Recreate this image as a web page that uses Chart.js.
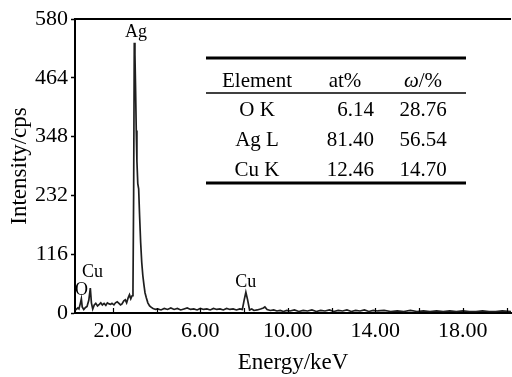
<!DOCTYPE html>
<html>
<head>
<meta charset="utf-8">
<script src="https://cdn.jsdelivr.net/npm/chart.js@4.4.0/dist/chart.umd.min.js"></script>
<style>
  html, body { margin: 0; padding: 0; background: #fff; }
  #wrap { width: 512px; height: 377px; }
</style>
</head>
<body>
<div id="wrap"><canvas id="eds" width="512" height="377"></canvas></div>
<script>
// EDS spectrum of the Ag/Cu sample, with the composition table inset.

// --- data ---
const energy = [
  0.30, 0.40, 0.45, 0.52, 0.56, 0.60, 0.67, 0.75, 0.82, 0.90, 0.97, 1.02, 1.08,
  1.15, 1.22, 1.30, 1.38, 1.45, 1.52, 1.60, 1.68, 1.75, 1.83, 1.90, 1.96, 2.05,
  2.12, 2.20, 2.28, 2.35, 2.42, 2.50, 2.57, 2.63, 2.70, 2.76, 2.82, 2.88, 2.92,
  2.95, 2.98, 3.01, 3.04, 3.07, 3.10, 3.14, 3.18, 3.22, 3.27, 3.32, 3.37, 3.42,
  3.47, 3.53, 3.60, 3.68, 3.76, 3.84, 3.95,
  4.05, 4.20, 4.35, 4.50, 4.65, 4.80, 4.95, 5.10, 5.25, 5.40, 5.55, 5.70, 5.85,
  6.00, 6.15, 6.30, 6.45, 6.60, 6.75, 6.90, 7.05, 7.20, 7.35, 7.50, 7.65, 7.80,
  7.92, 8.00, 8.08, 8.16, 8.25, 8.35, 8.45, 8.60, 8.75, 8.88, 8.95, 9.05, 9.20,
  9.35, 9.50, 9.65, 9.80, 9.95, 10.1, 10.3, 10.5, 10.7, 10.9, 11.1, 11.3, 11.5,
  11.7, 11.9, 12.1, 12.3, 12.5, 12.7, 12.9, 13.1, 13.3, 13.5, 13.7, 13.9, 14.1,
  14.4, 14.7, 15.0, 15.3, 15.6, 15.9, 16.2, 16.5, 16.8, 17.1, 17.4, 17.7, 18.0,
  18.3, 18.6, 18.9, 19.2, 19.5, 19.8, 20.2
];
const counts = [
  6, 10, 8, 20, 28, 12, 7, 11, 13, 25, 49, 20, 8,
  16, 19, 14, 17, 20, 16, 19, 15, 20, 18, 17, 19, 16,
  20, 22, 19, 16, 18, 24, 26, 20, 30, 36, 28, 34, 48,
  230, 533, 510, 440, 360, 300, 255, 245, 195, 140, 100, 74, 56,
  40, 30, 20, 14, 11, 9, 7,
  8, 6, 9, 7, 10, 7, 9, 6, 8, 10, 7, 8, 6,
  9, 7, 8, 6, 9, 7, 8, 6, 9, 7, 8, 6, 8,
  7, 25, 41, 26, 6, 8, 5, 6, 8, 10, 12, 7, 5,
  6, 4, 5, 3, 5, 4, 6, 3, 5, 4, 6, 3, 5,
  4, 6, 3, 5, 4, 6, 3, 5, 4, 6, 3, 5, 4,
  5, 3, 4, 3, 5, 3, 4, 3, 4, 3, 4, 3, 4,
  3, 3, 4, 3, 3, 4, 3
];

const xRange = [0.27, 20.2];
const xTicks = [2, 6, 10, 14, 18];
const xMinorTicks = [2, 4, 6, 8, 10, 12, 14, 16, 18, 20];
const yTicks = [0, 116, 232, 348, 464, 580];

// peak labels: text, energy, height (cps) of the label centre
const peakText = ["O", "Cu", "Ag", "Cu"];
const peakEnergy = [0.57, 1.07, 3.06, 8.08];
const peakLevel = [45, 81, 554, 61];

// composition table
const tableHead = ["Element", "at%", "ω/%"];
const tableElement = ["O K", "Ag L", "Cu K"];
const tableAt = ["6.14", "81.40", "12.46"];
const tableW = ["28.76", "56.54", "14.70"];

const FONT = '"Liberation Serif", "Times New Roman", serif';

// --- extras drawn on top: frame line, inner ticks, labels, table ---
const extras = {
  id: "extras",
  afterDraw(chart) {
    const { ctx, chartArea: a, scales } = chart;
    const sx = scales.x, sy = scales.y;
    ctx.save();
    ctx.strokeStyle = "#000";
    ctx.fillStyle = "#000";

    // top frame line
    ctx.lineWidth = 2;
    ctx.beginPath();
    ctx.moveTo(a.left - 1, a.top);
    ctx.lineTo(a.right, a.top);
    ctx.stroke();

    // small inward ticks on the energy axis
    ctx.lineWidth = 1.2;
    xMinorTicks.forEach((v) => {
      const px = Math.round(sx.getPixelForValue(v)) + 0.5;
      ctx.beginPath();
      ctx.moveTo(px, a.bottom);
      ctx.lineTo(px, a.bottom - 5);
      ctx.stroke();
    });

    // peak labels
    ctx.font = "18px " + FONT;
    ctx.textAlign = "center";
    ctx.textBaseline = "middle";
    peakText.forEach((t, i) => {
      ctx.fillText(t, sx.getPixelForValue(peakEnergy[i]), sy.getPixelForValue(peakLevel[i]));
    });

    // table
    const L = a.left + 131, R = a.left + 391;
    const c1 = a.left + 182, c2 = a.left + 270, c2r = a.left + 299, c3 = a.left + 348;
    const topY = a.top + 39, headY = a.top + 74, botY = a.top + 164;
    ctx.lineWidth = 3;
    ctx.beginPath();
    ctx.moveTo(L, topY); ctx.lineTo(R, topY);
    ctx.moveTo(L, botY); ctx.lineTo(R, botY);
    ctx.stroke();
    ctx.lineWidth = 1.5;
    ctx.beginPath();
    ctx.moveTo(L, headY); ctx.lineTo(R, headY);
    ctx.stroke();

    ctx.font = "21px " + FONT;
    ctx.textBaseline = "alphabetic";
    const hBase = a.top + 68;
    ctx.textAlign = "center";
    ctx.fillText(tableHead[0], c1, hBase);
    ctx.fillText(tableHead[1], c2, hBase);
    // italic omega + upright "/%"
    const om = tableHead[2].slice(0, 1), rest = tableHead[2].slice(1);
    ctx.font = "italic 21px " + FONT;
    const wOm = ctx.measureText(om).width;
    ctx.font = "21px " + FONT;
    const wRest = ctx.measureText(rest).width;
    const start = c3 - (wOm + wRest) / 2;
    ctx.textAlign = "left";
    ctx.font = "italic 21px " + FONT;
    ctx.fillText(om, start, hBase);
    ctx.font = "21px " + FONT;
    ctx.fillText(rest, start + wOm, hBase);

    tableElement.forEach((el, i) => {
      const yb = a.top + 97 + i * 30;
      ctx.textAlign = "center";
      ctx.fillText(el, c1, yb);
      ctx.fillText(tableW[i], c3, yb);
      ctx.textAlign = "right";
      ctx.fillText(tableAt[i], c2r, yb);
    });
    ctx.restore();
  },
};

const points = energy.map((e, i) => ({ x: e, y: counts[i] }));

new Chart(document.getElementById("eds"), {
  type: "line",
  data: {
    datasets: [{
      data: points,
      borderColor: "#1e1e1e",
      borderWidth: 1.7,
      pointRadius: 0,
      tension: 0,
      fill: false,
    }],
  },
  options: {
    responsive: false,
    animation: false,
    devicePixelRatio: 1,
    parsing: false,
    layout: { padding: { left: 0, top: 19, right: 1, bottom: 0 } },
    plugins: { legend: { display: false }, tooltip: { enabled: false } },
    scales: {
      x: {
        type: "linear",
        min: xRange[0],
        max: xRange[1],
        afterBuildTicks: (s) => { s.ticks = xTicks.map((v) => ({ value: v })); },
        afterFit: (s) => { s.height = 64; },
        ticks: {
          color: "#000", font: { family: FONT, size: 22 }, padding: 5,
          maxRotation: 0, autoSkip: false,
          callback: (v) => Number(v).toFixed(2),
        },
        grid: { drawOnChartArea: false, drawTicks: false },
        border: { display: true, color: "#000", width: 2 },
        title: {
          display: true, text: "Energy/keV", color: "#000",
          font: { family: FONT, size: 23 }, padding: { top: 0, bottom: 0 },
        },
      },
      y: {
        min: yTicks[0],
        max: yTicks[yTicks.length - 1],
        afterBuildTicks: (s) => { s.ticks = yTicks.map((v) => ({ value: v })); },
        afterFit: (s) => { s.width = 75; },
        ticks: { color: "#000", font: { family: FONT, size: 22 }, padding: 3 },
        grid: { drawOnChartArea: false, drawTicks: true, tickLength: 4, color: "#000", tickWidth: 1.5 },
        border: { display: true, color: "#000", width: 2 },
        title: {
          display: true, text: "Intensity/cps", color: "#000",
          font: { family: FONT, size: 23 }, padding: { top: 6, bottom: 0 },
        },
      },
    },
  },
  plugins: [extras],
});
</script>
</body>
</html>
